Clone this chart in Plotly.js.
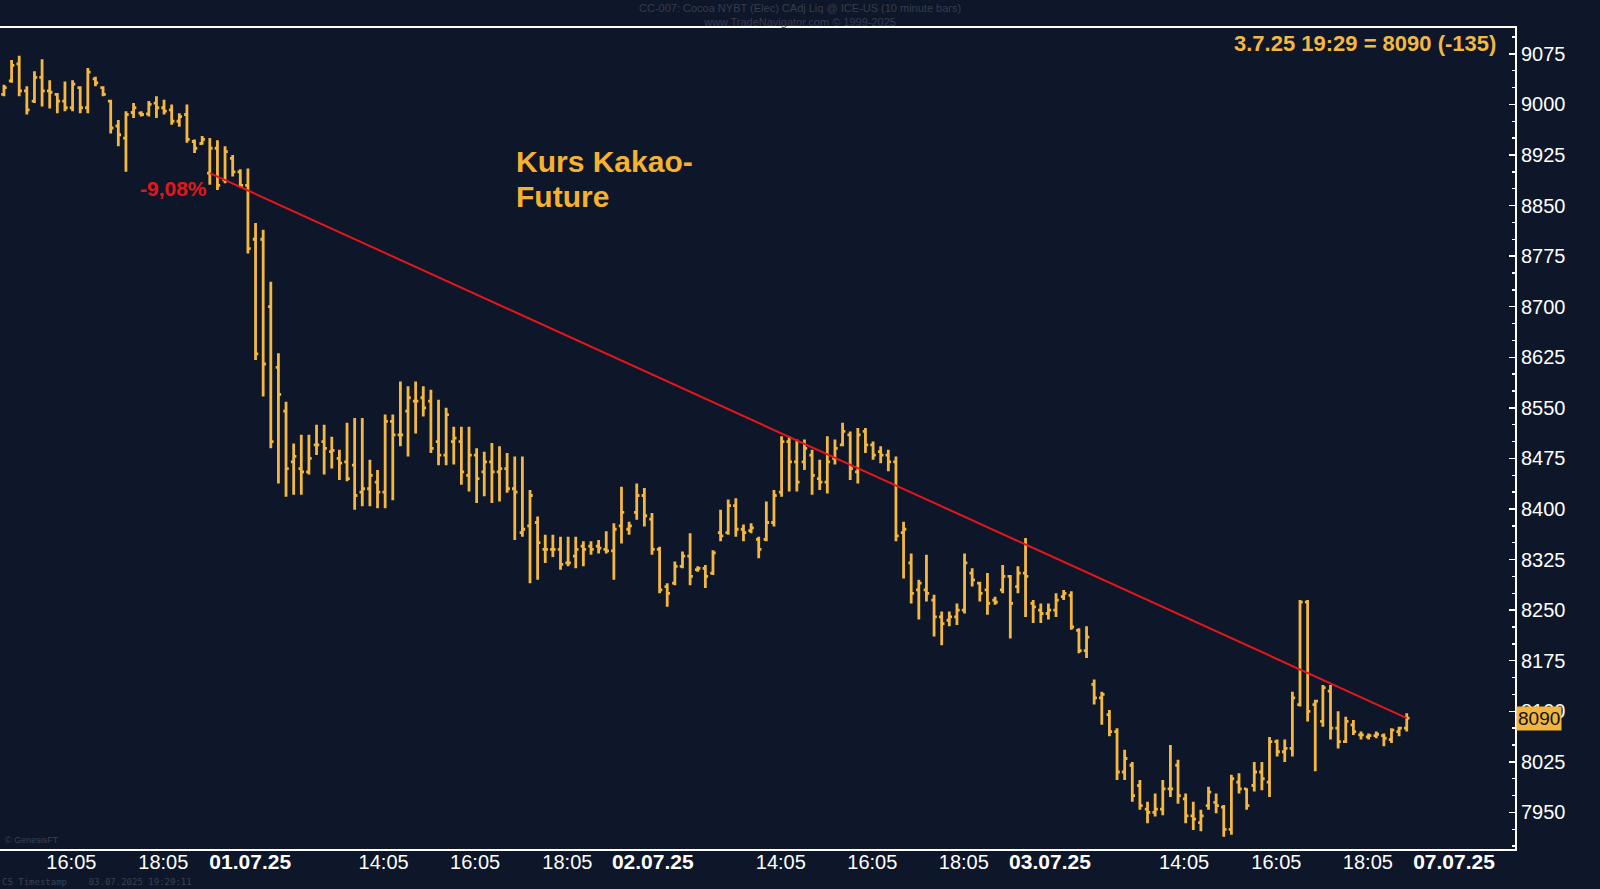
<!DOCTYPE html>
<html>
<head>
<meta charset="utf-8">
<script src="https://cdn.plot.ly/plotly-3.0.1.min.js"></script>
<style>html,body{margin:0;padding:0;background:#0e1629;}#chart{width:1600px;height:889px;}</style>
</head>
<body>
<div id="chart"></div>
<script>
// 10-minute bars, Cocoa NY (ICE-US), 30.06.-03.07.2025
const highs = [9029,9066,9072,9027,9049,9067,9036,9017,9034,9036,9027,9054,9041,9027,9007,8977,8990,9002,8990,9005,
9012,9007,9000,8987,9000,8948,8953,8950,8947,8938,8925,8904,8905,8824,8814,8737,8631,8559,8497,8510,
8510,8525,8525,8507,8488,8528,8535,8535,8473,8458,8540,8540,8589,8582,8589,8582,8577,8562,8550,8522,
8522,8522,8490,8485,8498,8493,8483,8478,8478,8428,8389,8362,8362,8359,8359,8359,8352,8352,8354,8367,
8379,8433,8381,8438,8431,8394,8344,8290,8322,8337,8364,8315,8317,8339,8399,8414,8416,8377,8379,8359,
8411,8428,8508,8508,8503,8503,8488,8473,8508,8503,8528,8515,8520,8520,8500,8493,8488,8478,8381,8334,
8295,8332,8273,8248,8248,8260,8334,8312,8292,8305,8270,8317,8302,8315,8357,8265,8260,8260,8275,8280,
8278,8223,8226,8147,8129,8102,8075,8043,8025,7998,7966,7978,7998,8050,8028,7978,7966,7954,7988,7978,
7961,8006,8008,7986,8025,8025,8062,8058,8058,8129,8265,8265,8117,8139,8139,8100,8092,8087,8070,8067,
8070,8067,8075,8077,8097];
const lows = [9012,9032,9012,8985,9002,8997,8994,8987,8990,8990,8987,8987,9027,9012,8957,8938,8900,8980,8982,8982,
8980,8985,8970,8967,8943,8928,8940,8881,8873,8883,8893,8877,8779,8621,8567,8490,8438,8418,8421,8421,
8451,8480,8451,8460,8443,8441,8399,8404,8404,8401,8401,8413,8493,8478,8512,8537,8483,8465,8465,8466,
8436,8426,8409,8419,8409,8411,8424,8354,8359,8290,8295,8320,8329,8310,8315,8312,8315,8332,8334,8334,
8295,8349,8362,8384,8374,8332,8275,8255,8287,8312,8287,8307,8283,8302,8352,8362,8359,8352,8364,8327,
8352,8374,8418,8426,8426,8458,8421,8428,8423,8466,8493,8443,8438,8483,8473,8468,8456,8352,8297,8260,
8236,8263,8211,8198,8226,8228,8245,8285,8263,8243,8258,8275,8208,8275,8240,8231,8231,8236,8240,8265,
8221,8186,8179,8110,8080,8063,7998,7998,7966,7954,7934,7944,7946,7973,7963,7934,7924,7922,7954,7949,
7914,7917,7978,7954,7981,7983,7973,8033,8025,8033,8107,8085,8011,8077,8058,8045,8053,8065,8058,8058,
8060,8048,8053,8063,8070];
const opens = [9015,9035,9060,9020,9005,9040,9020,9015,9005,8995,9025,8995,9038,9025,9005,8968,8950,8988,8987,8986,
9002,8995,8992,8975,8985,8945,8942,8898,8935,8888,8920,8900,8880,8800,8800,8700,8610,8545,8470,8460,
8455,8495,8500,8485,8475,8470,8465,8425,8430,8440,8425,8530,8510,8545,8560,8565,8560,8500,8480,8500,
8500,8450,8480,8455,8470,8455,8460,8430,8365,8375,8380,8340,8340,8340,8320,8330,8345,8345,8345,8340,
8338,8375,8370,8395,8420,8385,8340,8285,8290,8315,8330,8310,8312,8305,8365,8365,8405,8370,8368,8355,
8355,8380,8425,8500,8470,8470,8480,8445,8440,8475,8495,8510,8455,8515,8495,8485,8480,8470,8365,8320,
8280,8280,8265,8240,8235,8240,8250,8305,8290,8280,8265,8280,8300,8285,8305,8260,8250,8245,8250,8270,
8272,8220,8190,8140,8120,8095,8070,8010,8020,7990,7955,7950,7955,7985,8020,7970,7945,7935,7960,7965,
7958,7925,7995,7985,7990,8010,7995,8055,8040,8045,8110,8262,8110,8085,8130,8075,8055,8080,8065,8062,
8064,8064,8058,8070,8075];
const closes = [9025,9058,9020,8992,9040,9020,9018,9005,8995,9030,8995,9048,9032,9015,8965,8955,8985,8995,8985,9000,
8995,8990,8975,8982,8948,8935,8948,8935,8880,8930,8900,8880,8786,8630,8615,8500,8570,8460,8478,8455,
8475,8495,8490,8487,8468,8445,8420,8430,8450,8425,8530,8510,8510,8565,8560,8550,8490,8480,8540,8505,
8455,8480,8445,8470,8455,8460,8430,8425,8370,8420,8350,8340,8340,8318,8320,8340,8340,8340,8342,8338,
8370,8395,8375,8420,8390,8340,8280,8275,8315,8330,8300,8312,8300,8335,8360,8405,8370,8365,8372,8340,
8380,8420,8500,8470,8440,8490,8450,8440,8470,8490,8515,8460,8510,8495,8480,8480,8470,8360,8370,8275,
8290,8275,8240,8230,8240,8250,8320,8295,8275,8260,8262,8300,8260,8305,8300,8255,8245,8250,8265,8275,
8225,8190,8210,8120,8125,8070,8010,8030,7975,7960,7950,7955,7985,7985,7975,7945,7940,7945,7980,7960,
7925,8000,7985,7960,8010,8000,8055,8040,8045,8120,8262,8100,8115,8135,8075,8055,8085,8070,8065,8064,
8066,8060,8072,8075,8090];

// x-axis labels (bar position of each label)
const tickLabels = ['16:05','18:05','01.07.25','14:05','16:05','18:05','02.07.25','14:05','16:05','18:05','03.07.25','14:05','16:05','18:05','07.07.25'];
const tickBars = [8.84,20.9,32.3,49.8,61.8,73.9,85.1,101.9,113.9,125.9,137.2,154.8,166.9,178.9,190.2];

// trend line (bar index, price)
const trendBars = [27, 184];
const trendPrices = [8898, 8090];

const lastPrice = 8090;
const headerLine1 = 'CC-007: Cocoa NYBT (Elec) CAdj Liq @ ICE-US (10 minute bars)';
const headerLine2 = 'www.TradeNavigator.com © 1999-2025';
const infoText = '3.7.25 19:29 = 8090 (-135)';
const titleLines = ['Kurs Kakao-', 'Future'];
const titleLinePrices = [8916, 8864];
const changeText = '-9,08%';

const barIdx = opens.map((_, i) => i);
const gold = '#f3b842';
const bg = '#0e1629';

// dates in bold and slightly larger
const tickText = tickLabels.map(t => t.indexOf('.') >= 0 ? '<b><span style="font-size:21px">' + t + '</span></b>' : t);

const traces = [
  {
    type: 'ohlc', x: barIdx, open: opens, high: highs, low: lows, close: closes,
    increasing: {line: {color: gold, width: 2.8}},
    decreasing: {line: {color: gold, width: 2.8}},
    tickwidth: 0.36, hoverinfo: 'skip', showlegend: false
  },
  {
    type: 'scatter', mode: 'lines', x: trendBars, y: trendPrices,
    line: {color: '#e3161c', width: 2}, hoverinfo: 'skip', showlegend: false
  }
];

const annotations = [
  {xref: 'paper', yref: 'paper', x: 0.528, y: 1, yshift: 28, xanchor: 'center', yanchor: 'top',
   text: headerLine1 + '<br>' + headerLine2, showarrow: false,
   font: {size: 11, color: '#363d4e', family: 'Liberation Sans Narrow, Liberation Sans, Arial'}},
  {xref: 'paper', yref: 'paper', x: 1, xshift: -17, y: 1, yshift: -1, xanchor: 'right', yanchor: 'top',
   text: '<b>' + infoText + '</b>', showarrow: false,
   font: {size: 22, color: '#f2b844'}},
  {xref: 'x', yref: 'y', x: 26.9, y: 8876, xanchor: 'right', yanchor: 'middle',
   text: '<b>' + changeText + '</b>', showarrow: false,
   font: {size: 21, color: '#e3161c'}},
  {xref: 'paper', yref: 'y', x: 1, xshift: 1, y: lastPrice, xanchor: 'left', yanchor: 'middle',
   text: String(lastPrice), showarrow: false, bgcolor: '#f2b640', borderpad: 1,
   font: {size: 19, color: '#111111'}},
  {xref: 'paper', yref: 'paper', x: 0, xshift: 3, y: 0, yshift: 2, xanchor: 'left', yanchor: 'bottom',
   text: '© GenesisFT', showarrow: false, font: {size: 9, color: '#3a4254'}},
  {xref: 'paper', yref: 'paper', x: 0, xshift: 0, y: 0, yshift: -40, xanchor: 'left', yanchor: 'bottom',
   text: 'CS Timestamp    03.07.2025 19:29:11', showarrow: false,
   font: {size: 9, color: '#3a4254', family: 'DejaVu Sans Mono, monospace'}}
];
titleLines.forEach((t, i) => annotations.push({
  xref: 'x', yref: 'y', x: 66.9, y: titleLinePrices[i], xanchor: 'left', yanchor: 'middle',
  text: '<b>' + t + '</b>', showarrow: false, font: {size: 30, color: '#f6b12f'}
}));

const layout = {
  width: 1600, height: 889,
  paper_bgcolor: bg, plot_bgcolor: bg,
  margin: {l: 0, r: 85, t: 28, b: 40, pad: 0},
  font: {family: 'Liberation Sans, Arial, sans-serif', color: '#ffffff'},
  xaxis: {
    range: [-0.52, 198.2], rangeslider: {visible: false},
    tickmode: 'array', tickvals: tickBars, ticktext: tickText,
    ticks: '', showgrid: false, zeroline: false, ticklabelstandoff: -6,
    showline: true, linecolor: '#ffffff', linewidth: 2, mirror: true,
    tickfont: {size: 20, color: '#ffffff', family: 'Liberation Sans, Arial, sans-serif'}
  },
  yaxis: {
    side: 'right', range: [7895.8, 9113.3],
    tick0: 7950, dtick: 75, ticks: 'inside', ticklen: 6, tickwidth: 1.5, tickcolor: '#ffffff',
    minor: {tick0: 7950, dtick: 25, ticks: 'inside', ticklen: 3, tickwidth: 1.5, tickcolor: '#ffffff', showgrid: false},
    showgrid: false, zeroline: false,
    showline: true, linecolor: '#ffffff', linewidth: 2,
    tickfont: {size: 20, color: '#ffffff', family: 'Liberation Sans, Arial, sans-serif'}
  },
  annotations: annotations
};

Plotly.newPlot('chart', traces, layout, {staticPlot: true, displayModeBar: false});
</script>
</body>
</html>
